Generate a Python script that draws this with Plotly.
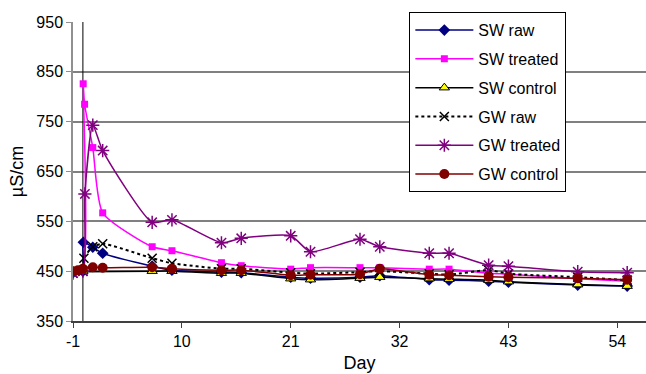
import plotly.graph_objects as go

# ---- data ----
sw_raw_days = [-1, 0, 0.05, 1, 2, 7, 9, 14, 16, 21, 23, 28, 30, 35, 37, 41, 43, 50, 55]
sw_raw_vals = [447, 450, 508, 498, 486, 460, 452, 448, 447, 438, 436, 438, 441, 433, 432, 430, 428, 422, 420]

sw_treated_days = [-1, 0, 0.03, 0.17, 1, 2, 7, 9, 14, 16, 21, 23, 28, 30, 35, 37, 41, 43, 50, 55]
sw_treated_vals = [447, 452, 826, 785, 698, 567, 499, 491, 467, 461, 454, 457, 457, 457, 454, 454, 446, 444, 435, 430]

sw_control_days = [-1, 0, 7, 9, 14, 16, 21, 23, 28, 30, 35, 37, 41, 43, 50, 55]
sw_control_vals = [449, 449, 450, 450, 446, 446, 435, 433, 436, 438, 435, 434, 432, 429, 423, 420]

gw_raw_days = [-1, 0, 0.1, 1, 2, 7, 9, 14, 16, 21, 23, 28, 30, 35, 37, 41, 43, 50, 55]
gw_raw_vals = [446, 450, 476, 499, 505, 476, 466, 455, 455, 447, 445, 448, 450, 445, 443, 452, 445, 438, 432]

gw_treated_days = [-1, 0, 0.2, 1, 2, 7, 9, 14, 16, 21, 23, 28, 30, 35, 37, 41, 43, 50, 55]
gw_treated_vals = [446, 450, 605, 743, 692, 548, 553, 507, 516, 521, 489, 514, 499, 486, 486, 462, 460, 449, 447]

gw_control_days = [-1, -0.5, 0, 1, 2, 7, 9, 14, 16, 21, 23, 28, 30, 35, 37, 41, 43, 50, 55]
gw_control_vals = [450, 452, 455, 458, 457, 458, 455, 452, 452, 442, 443, 444, 455, 443, 442, 439, 438, 436, 433]

event_days = [0, 0]
event_vals = [350, 950]

x_ticks = [-1, 10, 21, 32, 43, 54]
x_tick_labels = ["-1", "10", "21", "32", "43", "54"]
y_ticks = [350, 450, 550, 650, 750, 850, 950]

fig = go.Figure()

fig.add_trace(go.Scatter(x=event_days, y=event_vals, mode="lines",
                         line=dict(color="black", width=1), showlegend=False, hoverinfo="skip"))

common_line = dict(shape="spline", smoothing=0.6)

fig.add_trace(go.Scatter(x=sw_raw_days, y=sw_raw_vals, name="SW raw", mode="lines+markers",
                         line=dict(color="#000080", width=1.5, **common_line),
                         marker=dict(symbol="diamond", size=9, color="#000080"),
                         legendgroup="a"))
fig.add_trace(go.Scatter(x=sw_treated_days, y=sw_treated_vals, name="SW treated", mode="lines+markers",
                         line=dict(color="#FF00FF", width=1.5, **common_line),
                         marker=dict(symbol="square", size=7, color="#FF00FF"),
                         legendgroup="b"))
fig.add_trace(go.Scatter(x=sw_control_days, y=sw_control_vals, name="SW control", mode="lines+markers",
                         line=dict(color="black", width=1.5, **common_line),
                         marker=dict(symbol="triangle-up", size=9, color="#FFFF00",
                                     line=dict(color="black", width=1)),
                         legendgroup="c"))
fig.add_trace(go.Scatter(x=gw_raw_days, y=gw_raw_vals, name="GW raw", mode="lines+markers",
                         line=dict(color="black", width=2, dash="dot", **common_line),
                         marker=dict(symbol="x-thin-open", size=9, color="black",
                                     line=dict(color="black", width=1.5)),
                         legendgroup="d"))
fig.add_trace(go.Scatter(x=gw_treated_days, y=gw_treated_vals, name="GW treated", mode="lines+markers",
                         line=dict(color="#800080", width=1.5, **common_line),
                         marker=dict(symbol="asterisk-open", size=11, color="#800080",
                                     line=dict(color="#800080", width=1.5)),
                         legendgroup="e"))
fig.add_trace(go.Scatter(x=gw_control_days, y=gw_control_vals, name="GW control", mode="lines+markers",
                         line=dict(color="#800000", width=1.5, **common_line),
                         marker=dict(symbol="circle", size=10, color="#800000"),
                         legendgroup="f"))

fig.update_layout(
    width=646, height=374,
    margin=dict(l=73, r=0, t=22, b=53, autoexpand=False),
    paper_bgcolor="white", plot_bgcolor="white",
    font=dict(family="Arial, Liberation Sans, sans-serif", size=16, color="black"),
    showlegend=True,
    legend=dict(x=0.587, y=1.033, xanchor="left", yanchor="top",
                bgcolor="white", bordercolor="black", borderwidth=1,
                font=dict(size=16), traceorder="grouped", tracegroupgap=5,
                itemwidth=58),
    xaxis=dict(range=[-1, 56.9], tickmode="array", tickvals=x_ticks, ticktext=x_tick_labels,
               showgrid=False, zeroline=False, automargin=False,
               showline=True, linecolor="#404040", linewidth=1.5,
               ticks="outside", ticklen=5, tickcolor="#404040",
               title=dict(text="Day", font=dict(size=18), standoff=7)),
    yaxis=dict(range=[350, 950], tickmode="array", tickvals=y_ticks,
               showgrid=True, gridcolor="#808080", gridwidth=1.5, zeroline=False, automargin=False,
               showline=True, linecolor="#909090", linewidth=1.5,
               ticks="outside", ticklen=5, tickcolor="#909090",
               title=dict(text="µS/cm", font=dict(size=18), standoff=8)),
)

fig.write_html("out.html", config={"displayModeBar": False},
               post_script="document.body.style.margin='0';document.body.style.overflow='hidden';")
